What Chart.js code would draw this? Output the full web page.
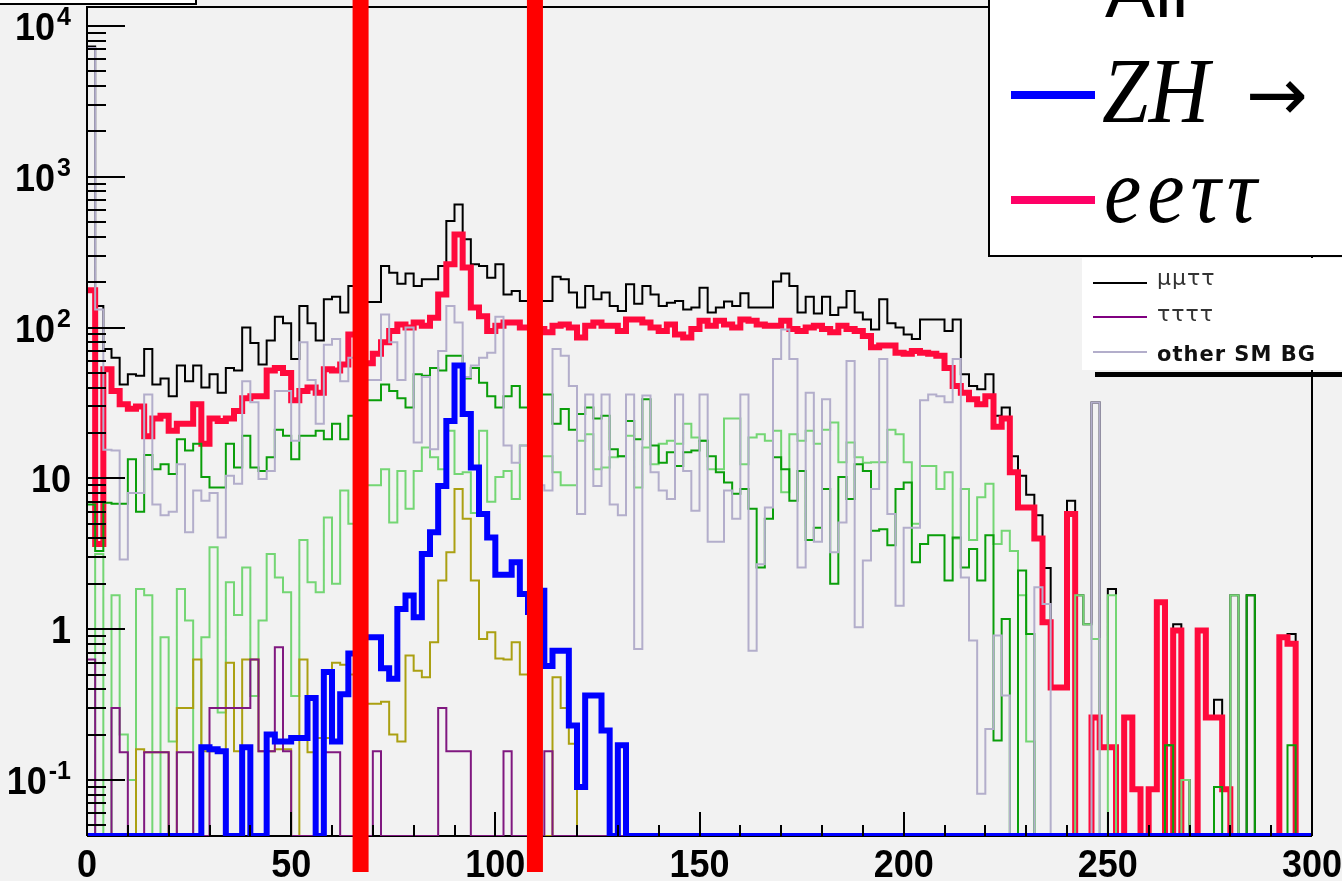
<!DOCTYPE html>
<html>
<head>
<meta charset="utf-8">
<script src="https://cdn.jsdelivr.net/npm/chart.js@4.4.1/dist/chart.umd.min.js"></script>
<style>
html,body{margin:0;padding:0;background:#f2f2f2;overflow:hidden}
#wrap{position:relative;width:1342px;height:881px;overflow:hidden}
#c{position:absolute;left:0;top:0}
.abs{position:absolute;white-space:nowrap}
</style>
</head>
<body>
<div id="wrap">
<canvas id="c" width="1342" height="881"></canvas>
<div class="abs" style="left:-2px;top:-3px;width:199px;height:8px;background:#fff;border:2px solid #000;box-sizing:border-box"></div>
<div class="abs" style="left:988px;top:-10px;width:370px;height:267px;background:#fff;border:2px solid #000;box-sizing:border-box"></div>
<div class="abs" style="left:1105px;top:-46px;font:75px 'Liberation Sans',sans-serif;line-height:75px;color:#000">All</div>
<div class="abs" style="left:1011px;top:91px;width:84px;height:8px;background:#0000ff"></div>
<div class="abs" style="left:1102px;top:52px;font:italic 84px 'Liberation Serif',serif;line-height:84px;transform:scaleY(1.1);transform-origin:0 70px;color:#000">ZH</div>
<div class="abs" style="left:1246px;top:57px;font:74px 'DejaVu Sans',sans-serif;line-height:74px;color:#000">→</div>
<div class="abs" style="left:1011px;top:196px;width:84px;height:8px;background:#ff0066"></div>
<div class="abs" style="left:1104px;top:152px;font:italic 84px 'Liberation Serif',serif;line-height:84px;letter-spacing:6px;transform:scaleY(1.1);transform-origin:0 70px;color:#000">eeττ</div>
<div class="abs" style="left:1082px;top:258px;width:270px;height:112px;background:#fff"></div>
<div class="abs" style="left:1093px;top:282px;width:54px;height:2px;background:#000"></div>
<div class="abs" style="left:1157px;top:267px;font:22px 'DejaVu Sans',sans-serif;line-height:22px;letter-spacing:1px;color:#333">μμττ</div>
<div class="abs" style="left:1093px;top:316px;width:54px;height:2px;background:#800080"></div>
<div class="abs" style="left:1157px;top:303px;font:22px 'DejaVu Sans',sans-serif;line-height:22px;letter-spacing:1px;color:#333">ττττ</div>
<div class="abs" style="left:1093px;top:351px;width:54px;height:2px;background:#b3aecb"></div>
<div class="abs" style="left:1157px;top:344px;font:bold 21px 'DejaVu Sans',sans-serif;line-height:21px;letter-spacing:1px;color:#111">other SM BG</div>
<div class="abs" style="left:1095px;top:372px;width:260px;height:5px;background:#000"></div>
</div>
<script>
// ---- binning (categories) ----
const N_BINS = 150;
const BIN_WIDTH = 2;
const binLeftEdges = Array.from({length: N_BINS}, (_, i) => i * BIN_WIDTH);
const X_MIN = 0, X_MAX = 300;
const Y_MIN = 0.04253, Y_MAX = 13360;

// ---- tick labels ----
const xTickValues = [0, 50, 100, 150, 200, 250, 300];
const xTickLabels = ['0', '50', '100', '150', '200', '250', '300'];
const yTickValues = [1e4, 1e3, 1e2, 10, 1, 0.1];
const yTickBase = ['10', '10', '10', '10', '1', '10'];
const yTickExp = ['4', '3', '2', '', '', '-1'];

// ---- cut lines (x values) ----
const cutValues = [67, 109.7];

// ---- series (events per 2-unit bin; trailing empty bins padded with 0) ----
const allTotal = [
7300,139,72,63,42,49,48,72,42,46,
35,56,44,56,40,49,37,54,52,100,
79,57,82,118,107,62,139,107,82,154,
160,126,189,175,148,148,256,231,195,228,
189,209,209,256,509,656,385,263,256,214,
263,166,175,150,160,150,150,217,209,171,
136,189,154,171,139,129,194,144,189,166,
139,146,150,132,136,184,126,136,149,139,
169,136,136,136,202,228,189,126,160,124,
160,121,136,175,126,113,97,154,107,100,
90,84,113,113,113,95,113,49,41,39,
49,26,29.5,14,10.4,7.8,5.7,2.55,0.42,0.42,
7.1,1.68,1.08,31.9,0.165,1.85,0,0.26,0.087,0,
0.087,1.51,0.17,1.08,0.1,0,0.98,0.26,0.34,0.087,
1.68,0,1.68,0,0,0,0.885,0.93,0,0];

const eetautau = [
177,3.67,53,38,31,29,30,19,25,26,
20.7,23,23,31,17,25,24,25,28,34,
35,35,52,54,50,33,38,40,37,53,
52,57,90,90,58,67,80,95,105,100,
108,103,116,166,263,415,250,136,119,95,
103,108,108,100,100,98,93,103,105,100,
86,103,108,103,103,95,113,113,108,100,
95,105,90,86,98,111,103,111,105,100,
113,111,105,103,103,111,98,95,100,103,
98,93,103,98,95,88,74,76,76,68,
67,70,68,67,65,54,41,37,33.5,31,
35,22,25,11,6.4,6.4,4.0,1.11,0.41,0.41,
5.8,0,0,0.26,0.165,0.165,0,0.26,0.087,0,
0.087,1.51,0,0.98,0,0,0.98,0.26,0.26,0.087,
0,0,0,0,0,0,0.885,0.8,0,0];

const zhSignal = [
0,0,0,0,0,0,0,0,0,0,
0,0,0,0,0.165,0.16,0.155,0,0,0.165,
0,0,0.2,0.18,0.18,0.19,0.19,0.35,0,0.52,
0.18,0.37,0.69,0.8,0.885,0.885,0.55,0.47,1.36,1.67,
1.2,3.15,4.4,8.9,24,56,26.7,11.8,5.8,4.06,
2.3,2.3,2.78,1.71,1.3,1.8,0.57,0.72,0.72,0.23,
0.09,0.364,0.364,0.213,0,0.17];

const otherSMBG = [
7150,132,15.5,15.3,2.9,8,8,36,6.7,5.7,
6,12.4,4.4,8.3,7.1,8,4.06,10.4,9.2,44,
32,9.9,11.2,38,38,17.8,80,45,23,77,
84,44,63,50,45,45,122,80,45,100,
17.3,47,15.6,70,139,108,47,56,63,68,
118,16.5,12.7,16.5,10,9,8.3,72,65,41,
5.8,36,8.9,36,6.7,5.7,36,0.74,35.5,11,
8.3,7.3,36,11.2,6.1,36,3.8,3.8,8.3,5.4,
36,0.72,2.7,6.4,62,97,62,2.57,37,3.8,
33.5,3.24,5.1,60,1.03,2.85,8.5,62,5.8,1.43,
4.7,4.7,33,36,35,32,62,2.2,0.84,0.081,
0.218,0.91,0.364,0,0,0,1.9,1.47,0,0,
0,0,0,31.9];

const bgDarkGreen = [
6.7,3.3,6.9,6.8,6.8,13.4,6,14.3,11.5,12.4,
10.7,18.2,15.3,17,10.2,8.7,8.7,17,11.8,19.2,
11.8,11.2,13.8,21,19.2,13.4,19.2,19.2,20.7,18.2,
23,18.2,26,30,33,33,42,38,34,29.5,
49,48,54,52,65,65,46,54,43,35,
29.5,35,41,29.5,32,36,36,23,28.8,21,
26.7,29.5,25,26,15.6,14,24,18.2,33.5,16.5,
12.7,14.9,12.1,14.9,15.3,17.8,14,11,9.4,7.9,
8.5,6.3,2.57,5.4,13.8,11.5,7.1,11.2,3.9,4.7,
8.5,2.0,10.2,7.3,12.4,11.2,4.5,4.6,3.6,8.5,
9.4,2.78,3.67,4.2,4.2,2.1,4.06,2.57,3.4,2.1,
4.2,0.183,1.17,0,2.45,0.93,0,0,0,0,
0,0,0,0,0,0,0,0,0,0,
0,0,0.17,0,0,0,0,0,0.09,0,
0,0,1.68,0,0,0,0,0.17];

const bgLightGreen = [
0,3.15,0,1.68,0.2,0.1,1.85,1.68,0,0.885,
0.18,1.85,1.14,0,0.885,3.5,0.28,2.05,1.24,2.57,
0.36,1.14,3.15,2.2,1.76,0.36,3.9,2.05,1.76,5.5,
2.0,8.3,5.0,7,9,9,11.5,5.1,11.2,6.3,
11.2,16,13.8,11.5,20.7,10.7,11,5.9,20.7,7,
10.2,11.2,7.3,16.5,14,14,14,11,9,9,
17.8,19.6,11.5,11.8,13.8,14,19.2,8.7,16,12.4,
17,17.8,17,23,18.7,17.8,11.5,11.5,25,25,
12.4,18.7,19.6,17.8,20.7,8.1,19.6,17.8,20.7,17,
21,23.5,12.8,17.3,13.8,12.7,12.8,12.8,21,19.6,
12.8,5,12.1,12.1,8.5,11,4,8.5,3.9,7.5,
9.2,3.67,4.5,3.3,1.68,0.18,0,0,0,0,
0,1.68,1.08,0.86,0,1.68,0,0,0,0,
0,0,0,0,0.1,0,0,0,0,0,
1.68];

const bgOlive = [
0,0,0,0,0,0,0.16,0.153,0.153,0.153,
0,0.30,0.30,0.63,0.155,0.155,0.155,0.6,0.155,0.63,
0.63,0.155,0.155,0.16,0.16,0,0.63,0.153,0.19,0.19,
0.6,0.58,0.5,0.4,0.32,0.32,0.33,0.2,0.18,0.67,
0.53,0.48,0.82,2.1,3.24,8.5,5.4,2.1,0.86,0.955,
0.64,0.63,0.82,0.5,0,0,0,0.48,0.30,0.174];

const tautautautau = [
0.63,0,0,0.30,0.153,0,0,0.153,0.153,0.153,
0,0.153,0.153,0,0,0.30,0.30,0.30,0.30,0.30,
0.63,0.155,0.155,0.76,0.155,0,0,0,0,0.153,
0.153,0,0,0,0,0.155,0,0,0,0,
0,0,0,0.30,0.155,0.155,0.155,0,0,0,
0,0.155,0,0,0,0,0.155];

// ---- build step outlines (empty bins sit on the axis floor) ----
function padBins(arr) { return arr.concat(new Array(Math.max(0, N_BINS - arr.length)).fill(0)); }
function steps(arr) {
  const v = padBins(arr);
  const pts = binLeftEdges.map((x, i) => ({x: x, y: v[i] > 0 ? v[i] : Y_MIN}));
  pts.push({x: X_MAX, y: v[N_BINS - 1] > 0 ? v[N_BINS - 1] : Y_MIN});
  return pts;
}
function ds(label, arr, color, width, order) {
  return {label, data: steps(arr), borderColor: color, borderWidth: width, order,
    stepped: 'before', pointRadius: 0, pointHoverRadius: 0, fill: false,
    tension: 0, borderJoinStyle: 'miter', borderCapStyle: 'butt'};
}

const datasets = [
  ds('ZH →', zhSignal, '#0000ff', 6, 0),
  ds('other SM BG', otherSMBG, '#b3aecb', 2, 1),
  ds('ττττ', tautautautau, '#801880', 2, 2),
  ds('bg (olive)', bgOlive, '#aba012', 2, 3),
  ds('bg (dark green)', bgDarkGreen, '#0a9e0a', 2, 4),
  ds('bg (light green)', bgLightGreen, '#74d674', 2, 5),
  ds('eeττ', eetautau, '#ff0a3c', 6, 6),
  ds('All', allTotal, '#000000', 2, 7)
];

function stretchedText(ctx, text, x, y, font, sy, align) {
  ctx.save();
  ctx.translate(x, y);
  ctx.scale(1, sy);
  ctx.font = font;
  ctx.textAlign = align;
  ctx.textBaseline = 'alphabetic';
  ctx.fillText(text, 0, 0);
  ctx.restore();
}

const axesPlugin = {
  id: 'rootAxes',
  beforeDatasetsDraw(chart) {
    const {ctx, chartArea: a} = chart;
    ctx.save();
    ctx.strokeStyle = '#000'; ctx.lineWidth = 2;
    ctx.beginPath(); ctx.moveTo(a.left, a.bottom); ctx.lineTo(a.right, a.bottom); ctx.stroke();
    ctx.restore();
  },
  afterDatasetsDraw(chart) {
    const {ctx, chartArea: a, scales} = chart;
    const xs = scales.x, ys = scales.y;
    ctx.save();
    ctx.strokeStyle = '#000'; ctx.lineWidth = 2;
    ctx.beginPath();
    ctx.moveTo(a.left, a.bottom); ctx.lineTo(a.left, a.top);
    ctx.lineTo(a.right, a.top); ctx.lineTo(a.right, a.bottom);
    ctx.stroke();
    // y ticks (inward)
    for (let d = -2; d <= 4; d++) {
      for (let m = 1; m <= 9; m++) {
        const v = m * Math.pow(10, d);
        if (v < ys.min || v > ys.max) continue;
        const py = Math.round(ys.getPixelForValue(v));
        const len = m === 1 ? 38 : 19;
        ctx.beginPath(); ctx.moveTo(a.left, py); ctx.lineTo(a.left + len, py); ctx.stroke();
      }
    }
    // x ticks (inward)
    for (let v = X_MIN; v <= X_MAX; v += 10) {
      const px = Math.round(xs.getPixelForValue(v));
      const len = v % 50 === 0 ? 24 : 11;
      ctx.beginPath(); ctx.moveTo(px, a.bottom); ctx.lineTo(px, a.bottom - len); ctx.stroke();
    }
    // y labels
    ctx.fillStyle = '#000';
    const baseFont = "bold 36px 'Liberation Sans', Arial, sans-serif";
    const supFont = "bold 25px 'Liberation Sans', Arial, sans-serif";
    const rightEdge = 71;
    yTickValues.forEach((v, i) => {
      const py = ys.getPixelForValue(v);
      ctx.font = supFont;
      const supW = yTickExp[i] ? ctx.measureText(yTickExp[i]).width + 2 : 0;
      if (yTickExp[i]) stretchedText(ctx, yTickExp[i], rightEdge, py - 1, supFont, 1.05, 'right');
      stretchedText(ctx, yTickBase[i], rightEdge - supW, py + 14, baseFont, 1.1, 'right');
    });
    // x labels
    xTickValues.forEach((v, i) => {
      const px = xs.getPixelForValue(v);
      stretchedText(ctx, xTickLabels[i], px, 877, baseFont, 1.1, 'center');
    });
    ctx.restore();
  },
  afterDraw(chart) {
    const {ctx, scales} = chart;
    ctx.save();
    ctx.fillStyle = '#ff0000';
    cutValues.forEach(v => {
      const px = scales.x.getPixelForValue(v);
      ctx.fillRect(px - 8, 0, 16, 872);
    });
    ctx.restore();
  }
};

new Chart(document.getElementById('c'), {
  type: 'line',
  data: {datasets},
  options: {
    responsive: false,
    animation: false,
    events: [],
    devicePixelRatio: 1,
    layout: {padding: {left: 87, top: 7, right: 30, bottom: 45}},
    plugins: {legend: {display: false}, tooltip: {enabled: false}, title: {display: false}},
    scales: {
      x: {type: 'linear', min: X_MIN, max: X_MAX, display: false},
      y: {type: 'logarithmic', min: Y_MIN, max: Y_MAX, display: false}
    }
  },
  plugins: [axesPlugin]
});
</script>
</body>
</html>
